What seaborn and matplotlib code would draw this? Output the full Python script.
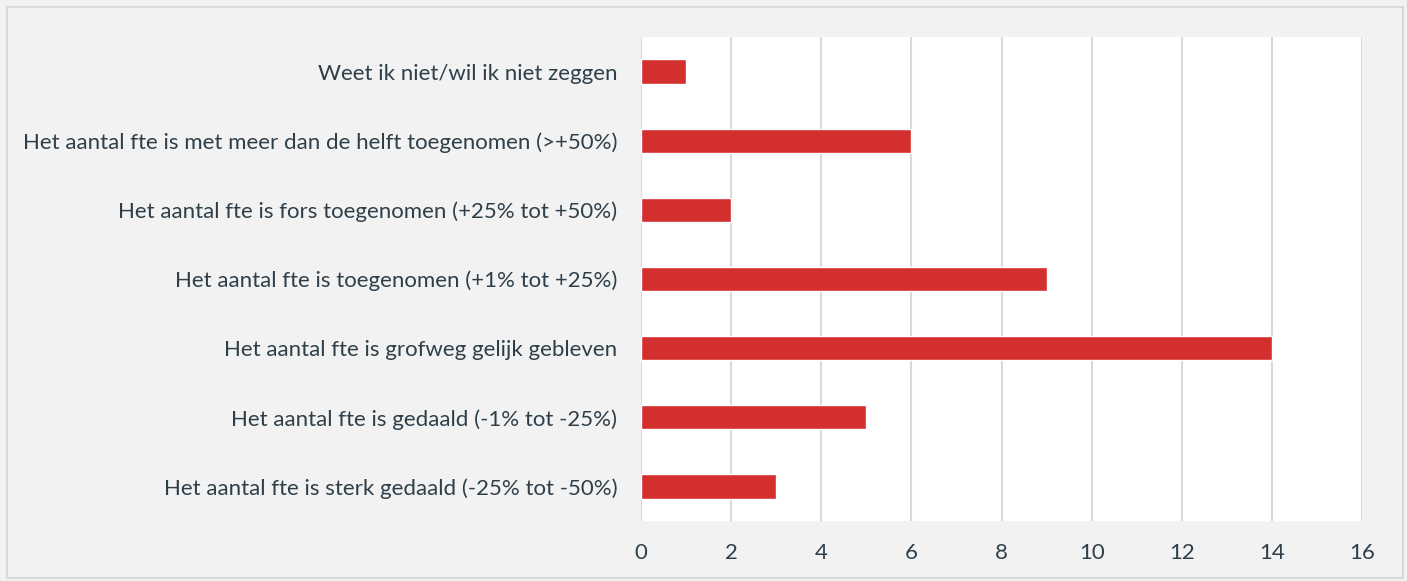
import pandas as pd
import seaborn as sns
import matplotlib.pyplot as plt
from matplotlib.patches import Rectangle

categories = [
    "Weet ik niet/wil ik niet zeggen",
    "Het aantal fte is met meer dan de helft toegenomen (>+50%)",
    "Het aantal fte is fors toegenomen (+25% tot +50%)",
    "Het aantal fte is toegenomen (+1% tot +25%)",
    "Het aantal fte is grofweg gelijk gebleven",
    "Het aantal fte is gedaald (-1% tot -25%)",
    "Het aantal fte is sterk gedaald (-25% tot -50%)",
]
counts = [1, 6, 2, 9, 14, 5, 3]
xticks = [0, 2, 4, 6, 8, 10, 12, 14, 16]

df = pd.DataFrame({"categorie": categories, "aantal": counts})

sns.set_theme(style="white")
plt.rcParams["font.family"] = ["Lato", "DejaVu Sans"]

text_color = "#2e3f4a"

fig = plt.figure(figsize=(14.07, 5.81), dpi=100, facecolor="#f2f2f2")
fig.patches.append(Rectangle((0.005, 0.005), 0.992, 0.983, transform=fig.transFigure,
                             fill=False, edgecolor="#d9d9d9", linewidth=1.5))
ax = fig.add_axes([0.4556, 0.1033, 0.5124, 0.833])
ax.set_facecolor("white")

sns.barplot(data=df, x="aantal", y="categorie", orient="h", color="#d32f2f",
            width=0.35, saturation=1, ax=ax, zorder=3)

ax.set_xlim(0, 16)
ax.set_ylim(6.5, -0.5)
ax.set_xticks(xticks)
ax.set_xticklabels([str(t) for t in xticks])
ax.grid(axis="x", color="#d9d9d9", linewidth=1.5, zorder=0)
ax.set_axisbelow(True)
for s in ax.spines.values():
    s.set_visible(False)
ax.tick_params(axis="both", length=0, colors=text_color, labelsize=16)
ax.tick_params(axis="x", pad=16)
ax.tick_params(axis="y", pad=17)
ax.set_xlabel("")
ax.set_ylabel("")

fig.savefig("out.png", dpi=100, facecolor=fig.get_facecolor())
